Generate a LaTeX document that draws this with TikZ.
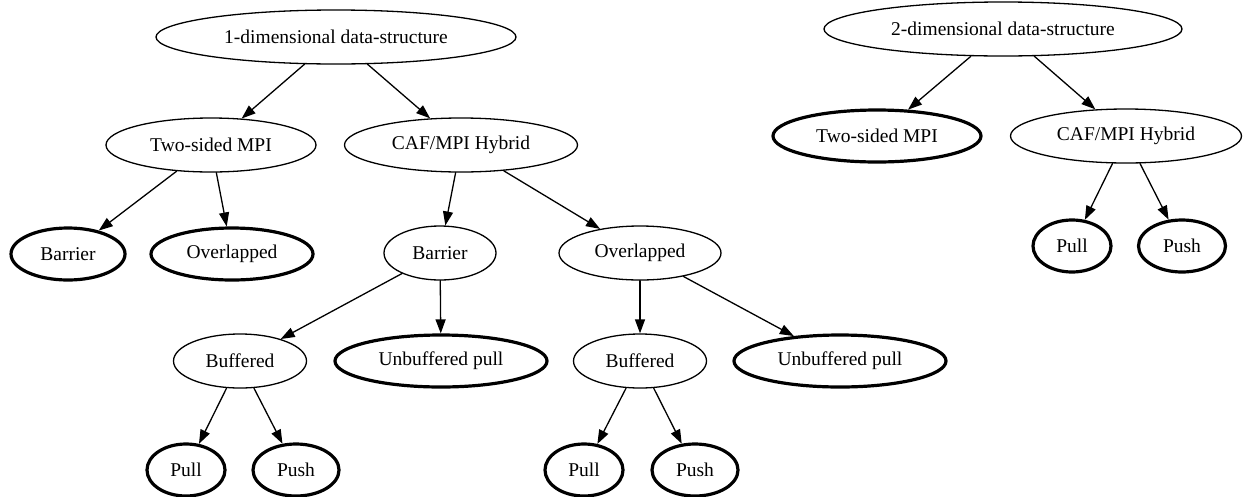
\documentclass[tikz,border=0pt]{standalone}
\usepackage{fontspec}
\setmainfont{Liberation Serif}
\usepackage{tikz}
\usetikzlibrary{arrows.meta, shapes.geometric}

\begin{document}
\begin{tikzpicture}[x=1pt, y=-1pt, line cap=round, line join=round,
    >={Triangle[length=14pt, width=10pt]},
    every node/.style={font=\fontsize{19.5}{22}\selectfont},
    choice/.style={draw, ellipse, line width=1.3pt, inner sep=0pt, minimum height=54pt},
    leaf/.style={choice, line width=3.2pt, minimum height=52pt},
    edge/.style={->, line width=1.3pt}]

  \useasboundingbox (0,0) rectangle (1244,496);

  % 1-dimensional tree
  \node[choice, minimum width=360pt] (oneD)   at (336,37)  {1-dimensional data-structure};
  \node[choice, minimum width=210pt] (twoL)   at (211,145) {Two-sided MPI};
  \node[choice, minimum width=233pt] (cafL)   at (461,145) {CAF/MPI Hybrid};
  \node[leaf,   minimum width=114pt] (barL)   at (68,254)  {Barrier};
  \node[leaf,   minimum width=162pt] (ovlL)   at (232,254) {Overlapped};
  \node[choice, minimum width=112pt] (barM)   at (440,253) {Barrier};
  \node[choice, minimum width=162pt] (ovlM)   at (640,253) {Overlapped};
  \node[choice, minimum width=133pt] (bufL)   at (240,361) {Buffered};
  \node[leaf,   minimum width=212pt] (unbL)   at (441,361) {Unbuffered pull};
  \node[choice, minimum width=133pt] (bufR)   at (640,361) {Buffered};
  \node[leaf,   minimum width=212pt] (unbR)   at (840,361) {Unbuffered pull};
  \node[leaf,   minimum width=78pt]  (pullL)  at (186,470) {Pull};
  \node[leaf,   minimum width=86pt]  (pushL)  at (296,470) {Push};
  \node[leaf,   minimum width=78pt]  (pullM)  at (584,470) {Pull};
  \node[leaf,   minimum width=86pt]  (pushM)  at (695,470) {Push};

  % 2-dimensional tree
  \node[choice, minimum width=358pt] (twoD)   at (1003,29)  {2-dimensional data-structure};
  \node[leaf,   minimum width=208pt] (twoR)   at (877,136)  {Two-sided MPI};
  \node[choice, minimum width=231pt] (cafR)   at (1126,136) {CAF/MPI Hybrid};
  \node[leaf,   minimum width=78pt]  (pullR)  at (1072,246) {Pull};
  \node[leaf,   minimum width=87pt]  (pushR)  at (1182,246) {Push};

  % Edges
  \draw[edge] (oneD) -- (twoL);
  \draw[edge] (oneD) -- (cafL);
  \draw[edge] (twoL) -- (barL);
  \draw[edge] (twoL) -- (ovlL);
  \draw[edge] (cafL) -- (barM);
  \draw[edge] (cafL) -- (ovlM);
  \draw[edge] (barM) -- (bufL);
  \draw[edge] (barM) -- (unbL);
  \draw[edge] (ovlM) -- (bufR);
  \draw[edge] (ovlM) -- (unbR);
  \draw[edge] (bufL) -- (pullL);
  \draw[edge] (bufL) -- (pushL);
  \draw[edge] (bufR) -- (pullM);
  \draw[edge] (bufR) -- (pushM);
  \draw[edge] (twoD) -- (twoR);
  \draw[edge] (twoD) -- (cafR);
  \draw[edge] (cafR) -- (pullR);
  \draw[edge] (cafR) -- (pushR);

\end{tikzpicture}
\end{document}
